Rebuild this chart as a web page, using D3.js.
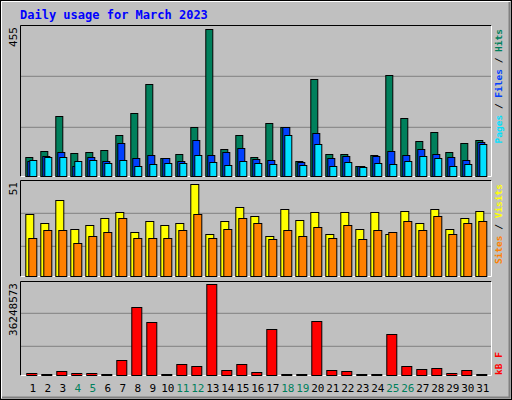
<!DOCTYPE html>
<html><head><meta charset="utf-8">
<script src="https://cdn.jsdelivr.net/npm/d3@7"></script>
<style>body{margin:0;background:#fff}svg{display:block}text{font-family:"DejaVu Sans Mono",monospace}</style>
</head><body><svg id="c" width="512" height="400"></svg>
<script>
const days = d3.range(1, 32);
const weekends = [4, 5, 11, 12, 18, 19, 25, 26];
const hits = [59,78,186,72,75,81,127,196,285,56,69,152,455,84,127,59,164,152,47,301,69,69,31,65,313,180,109,136,75,102,112];
const files = [47,62,75,31,59,47,102,56,65,56,47,112,65,75,87,53,50,152,44,134,56,62,31,62,78,65,84,69,59,50,105];
const pages = [50,59,59,47,50,40,50,31,37,40,40,65,44,34,47,40,37,127,34,99,31,44,28,40,37,47,62,56,31,37,99];
const sites = [34.4,29.4,42,26,28.3,32,35.5,24.4,30.5,28.3,29.4,51,23.3,30.5,38.2,33.2,22.2,37.1,31,35.5,23.3,35.5,26,35.5,23.3,36,29.4,37.1,26,32,36];
const visits = [21,25.5,25.5,18.3,22.2,24.4,32,21,21,21,25.5,34.4,21,26,32,29.4,20.5,25.5,22.2,27.1,21,28.3,20.5,25.5,24.4,30.5,25.5,33.2,23.3,29.4,30.5];
const kbytes = [0.8e6,0.3e6,1.6e6,0.8e6,0.8e6,0.3e6,6.0e6,27.1e6,21.1e6,0.3e6,4.4e6,3.6e6,36248573,2.0e6,4.4e6,1.2e6,18.3e6,0.3e6,0.3e6,21.5e6,2.0e6,1.6e6,0.3e6,0.3e6,16.3e6,3.6e6,2.4e6,2.8e6,0.8e6,2.0e6,0.3e6];

const svg = d3.select("#c");
svg.append("rect").attr("x",0.5).attr("y",0.5).attr("width",511).attr("height",399).attr("fill","#c0c0c0").attr("stroke","#000");
svg.append("path").attr("d","M1.5,398V1.5H510").attr("stroke","#fff").attr("fill","none");
svg.append("path").attr("d","M2,397.5H509.5V2").attr("stroke","#808080").attr("fill","none").attr("stroke-width",2);

svg.append("text").attr("x",20).attr("y",19).attr("fill","#0000ff").attr("font-size",12).attr("font-weight","bold").text("Daily usage for March 2023");

const x = d3.scaleLinear().domain([1, 31]).range([25.3, 475.3]);

function panel(top, bottom, max, topY, grids, series, leftLabel, rightParts, rightAtBottom) {
  const y = d3.scaleLinear().domain([0, max]).range([bottom, topY]);
  const g = svg.append("g");
  g.append("path").attr("d",`M20.5,${bottom+0.5}V${top+0.5}H491.5`).attr("stroke","#000").attr("fill","none");
  g.append("path").attr("d",`M20.5,${bottom+0.5}H491.5V${top+0.5}`).attr("stroke","#fff").attr("fill","none");
  grids.forEach(gy => g.append("line").attr("x1",21).attr("x2",491).attr("y1",gy).attr("y2",gy).attr("stroke","#808080"));
  series.forEach(s => {
    g.selectAll(null).data(s.values).join("rect")
      .attr("x",(d,i)=>x(days[i])+s.dx+0.5)
      .attr("y",d=>Math.round(y(d))+0.5)
      .attr("width",s.w)
      .attr("height",d=>Math.max(1, bottom-Math.round(y(d))))
      .attr("fill",s.color).attr("stroke","#000");
  });
  g.append("text").attr("transform",`translate(17,${top+2}) rotate(-90)`).attr("text-anchor","end")
    .attr("font-size",11).attr("fill","#000").text(leftLabel);
  const ry = rightAtBottom ? bottom : top + 4;
  const t = g.append("text").attr("transform",`translate(502,${ry}) rotate(-90)`)
    .attr("text-anchor", rightAtBottom ? "start" : "end").attr("font-size",9.5).attr("font-weight","bold");
  rightParts.forEach(p => t.append("tspan").attr("fill",p[1]).text(p[0]));
}

panel(25, 176, 455, 29.3, [76.3, 127.3], [
  {values: hits, dx: 0, w: 7, color: "#00805c"},
  {values: files, dx: 2, w: 7, color: "#0040ff"},
  {values: pages, dx: 4, w: 7, color: "#00e0ff"}
], "455", [["Pages","#00e0ff"],[" / ","#000"],["Files","#0040ff"],[" / ","#000"],["Hits","#00805c"]], false);

panel(180, 276, 51, 184.3, [213.3, 246.3], [
  {values: sites, dx: 0, w: 8, color: "#ffff00"},
  {values: visits, dx: 3, w: 8, color: "#ff8000"}
], "51", [["Sites","#ff8000"],[" / ","#000"],["Visits","#ffff00"]], false);

panel(281, 375, 36248573, 284.3, [313.3, 346.3], [
  {values: kbytes, dx: 1, w: 10, color: "#ff0000"}
], "36248573", [["kB F","#ff0000"]], true);

svg.selectAll(".day").data(days).join("text")
  .attr("x",d=>x(d)+7.5).attr("y",392).attr("text-anchor","middle").attr("font-size",11)
  .attr("fill",d=>weekends.includes(d)?"#00805c":"#000").text(d=>d);
</script></body></html>
